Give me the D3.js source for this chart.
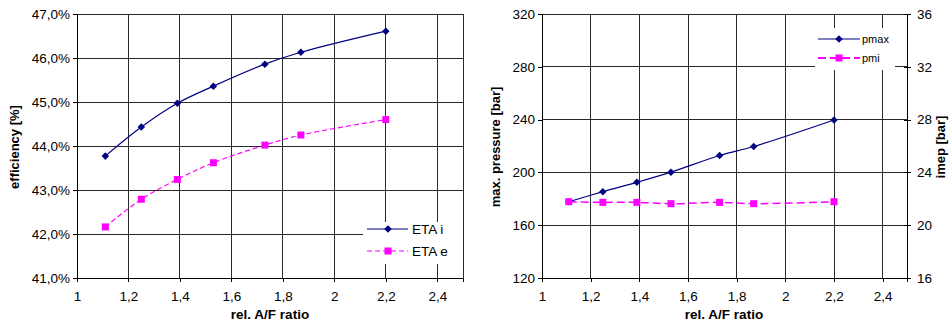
<!DOCTYPE html>
<html>
<head>
<meta charset="utf-8">
<script src="https://cdn.jsdelivr.net/npm/d3@7"></script>
<style>
body{margin:0;background:#fff;}
svg text{font-family:"Liberation Sans",Arial,sans-serif;}
</style>
</head>
<body>
<svg width="951" height="322"></svg>
<script>
// lambda values (rel. A/F ratio)
var lambda=[1.11,1.25,1.39,1.53,1.73,1.87,2.2];
// left panel: efficiencies [%]
var etaI=[43.77,44.43,44.97,45.36,45.86,46.13,46.61];
var etaE=[42.16,42.79,43.24,43.62,44.02,44.25,44.60];
// right panel: pressures [bar]
var pmax=[177.8,185.4,192.5,200.2,212.8,219.6,239.7];
var pmi=[21.78,21.73,21.73,21.63,21.73,21.63,21.78];

var xTicks=[1,1.2,1.4,1.6,1.8,2,2.2,2.4];
var effTicks=[41,42,43,44,45,46,47];
var pmaxTicks=[120,160,200,240,280,320];
var pmiTicks=[16,20,24,28,32,36];

var navy='#000080',magenta='#ff00ff';
var comma=d3.formatLocale({decimal:',',thousands:'.',grouping:[3],currency:['','']});

var svg=d3.select('svg');
var plotTop=14,plotBottom=278;

function grid(g,x,y,yt){
  g.selectAll('.vg').data(xTicks.concat([2.5])).enter().append('line')
    .attr('x1',d=>x(d)).attr('x2',d=>x(d)).attr('y1',plotTop).attr('y2',plotBottom)
    .attr('stroke','#2a2a2a').attr('stroke-width',1).attr('shape-rendering','crispEdges');
  g.selectAll('.hg').data(yt).enter().append('line')
    .attr('x1',x(1)).attr('x2',x(2.5)).attr('y1',d=>y(d)).attr('y2',d=>y(d))
    .attr('stroke','#2a2a2a').attr('stroke-width',1).attr('shape-rendering','crispEdges');
}

function styleAxis(a){
  a.select('.domain').attr('stroke','#000');
  a.selectAll('.tick line').attr('stroke','#000').attr('shape-rendering','crispEdges');
  a.selectAll('.tick text').attr('font-size','13.5px').attr('fill','#000')
    .attr('font-family','"Liberation Sans",Arial,sans-serif');
}

function diamond(g,pts,color){
  g.selectAll(null).data(pts).enter().append('path')
    .attr('d',d3.symbol(d3.symbolDiamond2,36)())
    .attr('transform',d=>'translate('+d[0]+','+d[1]+')')
    .attr('fill',color);
}
function square(g,pts,color,s){
  g.selectAll(null).data(pts).enter().append('rect')
    .attr('x',d=>d[0]-s/2).attr('y',d=>d[1]-s/2).attr('width',s).attr('height',s)
    .attr('fill',color);
}

var curve=d3.curveCatmullRom.alpha(0.5);

// ---------- left panel ----------
var x1=d3.scaleLinear().domain([1,2.5]).range([77,463]);
var y1=d3.scaleLinear().domain([41,47]).range([plotBottom,plotTop]);
var gL=svg.append('g');
grid(gL,x1,y1,effTicks);

var line1=d3.line().curve(curve);
var ptsI=lambda.map((l,i)=>[x1(l),y1(etaI[i])]);
var ptsE=lambda.map((l,i)=>[x1(l),y1(etaE[i])]);
gL.append('path').attr('d',line1(ptsE)).attr('fill','none').attr('stroke',magenta)
  .attr('stroke-width',1.2).attr('stroke-dasharray','5,3');
gL.append('path').attr('d',line1(ptsI)).attr('fill','none').attr('stroke',navy).attr('stroke-width',1.2);
diamond(gL,ptsI,navy);
square(gL,ptsE,magenta,7);

gL.append('g').attr('transform','translate(0,'+plotBottom+')')
  .call(d3.axisBottom(x1).tickValues(xTicks).tickSize(4).tickFormat(comma.format('~g')))
  .call(styleAxis)
  .call(a=>a.selectAll('.tick text').attr('dy','1.2em'));
gL.append('g').attr('transform','translate(77,0)')
  .call(d3.axisLeft(y1).tickValues(effTicks).tickSize(4).tickFormat(d=>comma.format('.1f')(d)+'%'))
  .call(styleAxis)
  .call(a=>a.select('.domain').remove());
gL.append('line').attr('x1',77).attr('x2',77).attr('y1',plotTop).attr('y2',plotBottom)
  .attr('stroke','#000').attr('shape-rendering','crispEdges');

gL.append('text').attr('x',270).attr('y',319).attr('text-anchor','middle')
  .attr('font-size','13.5px').attr('font-weight','bold').text('rel. A/F ratio');
gL.append('text').attr('transform','translate(19,147) rotate(-90)').attr('text-anchor','middle')
  .attr('font-size','13px').attr('font-weight','bold').text('efficiency [%]');

// legend left
var lgL=gL.append('g');
lgL.append('rect').attr('x',363).attr('y',222).attr('width',100).attr('height',42).attr('fill','#fff');
lgL.append('line').attr('x1',367).attr('x2',408).attr('y1',229).attr('y2',229).attr('stroke',navy).attr('stroke-width',1.2);
diamond(lgL,[[388,229]],navy);
lgL.append('line').attr('x1',367).attr('x2',408).attr('y1',251).attr('y2',251).attr('stroke',magenta)
  .attr('stroke-width',1.2).attr('stroke-dasharray','5,3');
square(lgL,[[388,251]],magenta,7);
lgL.append('text').attr('x',412).attr('y',234).attr('font-size','13.5px').text('ETA i');
lgL.append('text').attr('x',412).attr('y',256).attr('font-size','13.5px').text('ETA e');

// ---------- right panel ----------
var x2=d3.scaleLinear().domain([1,2.5]).range([542,907]);
var y2=d3.scaleLinear().domain([120,320]).range([plotBottom,plotTop]);
var y3=d3.scaleLinear().domain([16,36]).range([plotBottom,plotTop]);
var gR=svg.append('g');
grid(gR,x2,y2,pmaxTicks);

var ptsP=lambda.map((l,i)=>[x2(l),y2(pmax[i])]);
var ptsM=lambda.map((l,i)=>[x2(l),y3(pmi[i])]);
gR.append('path').attr('d',line1(ptsM)).attr('fill','none').attr('stroke',magenta)
  .attr('stroke-width',1.5).attr('stroke-dasharray','8,4');
gR.append('path').attr('d',line1(ptsP)).attr('fill','none').attr('stroke',navy).attr('stroke-width',1.2);
diamond(gR,ptsP,navy);
square(gR,ptsM,magenta,7);

gR.append('g').attr('transform','translate(0,'+plotBottom+')')
  .call(d3.axisBottom(x2).tickValues(xTicks).tickSize(4).tickFormat(comma.format('~g')))
  .call(styleAxis)
  .call(a=>a.selectAll('.tick text').attr('dy','1.2em'));
gR.append('g').attr('transform','translate(542,0)')
  .call(d3.axisLeft(y2).tickValues(pmaxTicks).tickSize(4))
  .call(styleAxis)
  .call(a=>a.select('.domain').remove());
gR.append('line').attr('x1',542).attr('x2',542).attr('y1',plotTop).attr('y2',plotBottom)
  .attr('stroke','#000').attr('shape-rendering','crispEdges');
gR.append('g').attr('transform','translate(907,0)')
  .call(d3.axisRight(y3).tickValues(pmiTicks).tickSizeInner(4).tickSizeOuter(0))
  .call(styleAxis)
  .call(a=>a.select('.domain').attr('shape-rendering','crispEdges'))
  .call(a=>a.selectAll('.tick line').attr('x1',-3))
  .call(a=>a.selectAll('.tick text').attr('x',10));

gR.append('text').attr('x',724).attr('y',319).attr('text-anchor','middle')
  .attr('font-size','13.5px').attr('font-weight','bold').text('rel. A/F ratio');
gR.append('text').attr('transform','translate(500,147) rotate(-90)').attr('text-anchor','middle')
  .attr('font-size','13px').attr('font-weight','bold').text('max. pressure [bar]');
gR.append('text').attr('transform','translate(945,147) rotate(-90)').attr('text-anchor','middle')
  .attr('font-size','13px').attr('font-weight','bold').text('imep [bar]');

// legend right
var lgR=gR.append('g');
lgR.append('rect').attr('x',815).attr('y',28).attr('width',80).attr('height',42).attr('fill','#fff');
lgR.append('line').attr('x1',818).attr('x2',860).attr('y1',39).attr('y2',39).attr('stroke',navy).attr('stroke-width',1.2);
diamond(lgR,[[839,39]],navy);
lgR.append('line').attr('x1',818).attr('x2',860).attr('y1',58).attr('y2',58).attr('stroke',magenta)
  .attr('stroke-width',2).attr('stroke-dasharray','8,4');
square(lgR,[[839,58]],magenta,7);
lgR.append('text').attr('x',862).attr('y',43).attr('font-size','11px').text('pmax');
lgR.append('text').attr('x',862).attr('y',62).attr('font-size','11px').text('pmi');
</script>
</body>
</html>
